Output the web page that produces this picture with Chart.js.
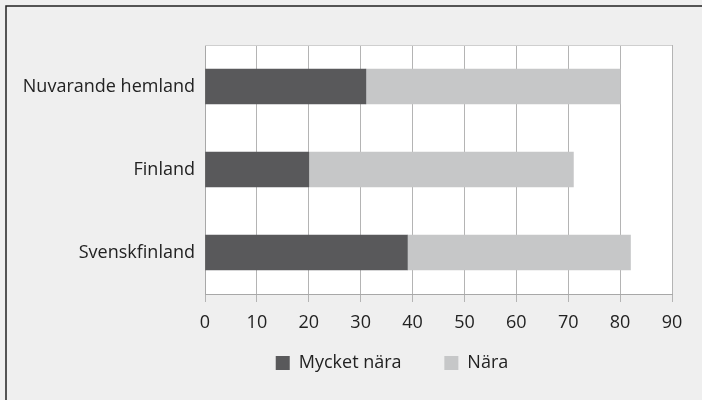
<!DOCTYPE html>
<html lang="sv">
<head>
<meta charset="utf-8">
<title>Närhet</title>
<script src="https://cdn.jsdelivr.net/npm/chart.js@4/dist/chart.umd.min.js"></script>
<style>
    body { margin: 0; background: #efefef; }
    #wrap { width: 702px; height: 400px; }
</style>
</head>
<body>
<div id="wrap"><canvas id="grafica" width="702" height="400"></canvas></div>
<script>
//----------------//
//--|datos|-------//
//----------------//
const kategorier = ["Nuvarande hemland", "Finland", "Svenskfinland"];
const myckettNara = [31, 20, 39];
const nara = [49, 51, 43];
const xTicks = [0, 10, 20, 30, 40, 50, 60, 70, 80, 90];

const FUENTE = "'Open Sans', sans-serif";

//----------------------//
//--|fondo_y_marco|-----//
//----------------------//
const fondo = {
    id: "fondo",
    afterLayout(chart) {
        // la leyenda original no queda centrada en el lienzo
        const lg = chart.legend;
        if (lg) {
            lg.left += 56;
            lg.right += 56;
        }
    },
    beforeDraw(chart) {
        const ctx = chart.ctx;
        const a = chart.chartArea;
        ctx.save();
        ctx.fillStyle = "#efefef";
        ctx.fillRect(0, 0, chart.width, chart.height);
        ctx.strokeStyle = "#222";
        ctx.lineWidth = 1.5;
        ctx.beginPath();
        ctx.moveTo(6, chart.height);
        ctx.lineTo(6, 6);
        ctx.lineTo(chart.width, 6);
        ctx.stroke();
        ctx.fillStyle = "#fff";
        ctx.fillRect(a.left, a.top, a.right - a.left, a.bottom - a.top);
        ctx.restore();
    },
    afterDatasetsDraw(chart) {
        const ctx = chart.ctx;
        const a = chart.chartArea;
        ctx.save();
        ctx.strokeStyle = "#cfcfcf";
        ctx.lineWidth = 1;
        ctx.beginPath();
        ctx.moveTo(a.left, a.top + 0.5);
        ctx.lineTo(a.right, a.top + 0.5);
        ctx.stroke();
        ctx.restore();
    }
};

//----------------------//
//--|grafica|-----------//
//----------------------//
const ctx = document.getElementById("grafica").getContext("2d");
new Chart(ctx, {
    type: "bar",
    data: {
        labels: kategorier,
        datasets: [
            {
                label: "Mycket nära",
                data: myckettNara,
                backgroundColor: "#59595b",
                barThickness: 35
            },
            {
                label: "Nära",
                data: nara,
                backgroundColor: "#c6c7c8",
                barThickness: 35
            }
        ]
    },
    options: {
        indexAxis: "y",
        responsive: false,
        animation: false,
        layout: { padding: { top: 45, right: 30, bottom: 18, left: 0 } },
        plugins: {
            tooltip: { enabled: false },
            legend: {
                position: "bottom",
                labels: {
                    color: "#222",
                    font: { family: FUENTE, size: 18 },
                    boxWidth: 14,
                    boxHeight: 14,
                    padding: 10,
                    generateLabels: chart => {
                        const items = Chart.defaults.plugins.legend.labels.generateLabels(chart);
                        items[0].text += "       ";
                        return items;
                    }
                }
            }
        },
        scales: {
            x: {
                stacked: true,
                min: 0,
                max: 90,
                afterBuildTicks: s => { s.ticks = xTicks.map(v => ({ value: v })); },
                afterFit: s => { s.height = 50; },
                grid: { color: "#b4b4b4", tickLength: 8, drawTicks: true },
                border: { color: "#a8a8a8" },
                ticks: {
                    color: "#222",
                    padding: 10,
                    font: { family: FUENTE, size: 18 }
                }
            },
            y: {
                stacked: true,
                afterFit: s => { s.width = 205; },
                grid: { display: false, drawTicks: false },
                border: { color: "#a8a8a8" },
                ticks: {
                    color: "#222",
                    padding: 10,
                    font: { family: FUENTE, size: 18 }
                }
            }
        }
    },
    plugins: [fondo]
});
</script>
</body>
</html>
